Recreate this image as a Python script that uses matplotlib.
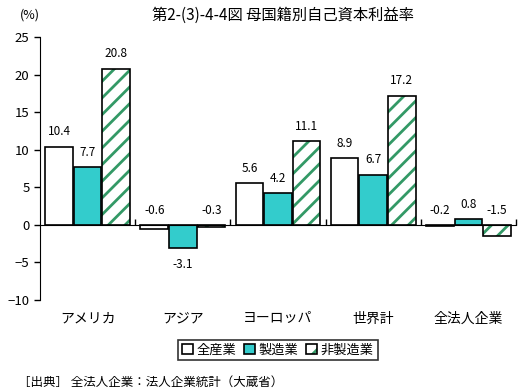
import matplotlib
matplotlib.use("Agg")
import matplotlib.pyplot as plt
import numpy as np
from matplotlib.patches import Patch
from matplotlib.legend_handler import HandlerTuple

plt.rcParams['font.family'] = ['Noto Sans CJK JP', 'DejaVu Sans']
plt.rcParams['hatch.linewidth'] = 2.0

# ------------------- Data -------------------
categories = ['アメリカ', 'アジア', 'ヨーロッパ', '世界計', '全法人企業']
series_names = ['全産業', '製造業', '非製造業']
all_industry = [10.4, -0.6, 5.6, 8.9, -0.2]
manufacturing = [7.7, -3.1, 4.2, 6.7, 0.8]
non_manufacturing = [20.8, -0.3, 11.1, 17.2, -1.5]
yticks = [25, 20, 15, 10, 5, 0, -5, -10]

title = '第2-(3)-4-4図 母国籍別自己資本利益率'
source = '［出典］ 全法人企業：法人企業統計（大蔵省）'

HATCH_GREEN = '#339966'

# ------------------- Figure -------------------
fig = plt.figure(figsize=(5.21, 3.91), dpi=100)
ax = fig.add_axes([40 / 521, 91 / 391, 476 / 521, 263 / 391])

x = np.arange(len(categories))
width = 0.29
offsets = [-0.3, 0.0, 0.3]
fills = ['white', '#33CCCC', 'white']
hatches = [None, None, '//']
all_series = [all_industry, manufacturing, non_manufacturing]

for values, off, fc, h in zip(all_series, offsets, fills, hatches):
    if h:
        # hatch drawn in green, outline drawn separately in black
        ax.bar(x + off, values, width, facecolor=fc, edgecolor=HATCH_GREEN,
               hatch=h, linewidth=0, zorder=2)
        ax.bar(x + off, values, width, facecolor='none', edgecolor='black',
               linewidth=1.2, zorder=3)
    else:
        ax.bar(x + off, values, width, facecolor=fc, edgecolor='black',
               linewidth=1.2, zorder=2)
    for xi, v in zip(x + off, values):
        if v < -2:
            ypos, va = v - 1.3, 'top'
        else:
            ypos, va = max(v, 0) + 1.1, 'bottom'
        ax.text(xi, ypos, f'{v:.1f}', ha='center', va=va, fontsize=8.5)

ax.set_xlim(-0.5, len(categories) - 0.5)
ax.set_ylim(-10, 25)
ax.set_yticks(yticks)
ax.tick_params(axis='y', direction='out', length=4, labelsize=9.5, width=1)

# x axis drawn at zero with small upward ticks between groups
ax.spines['bottom'].set_position(('data', 0))
ax.spines['bottom'].set_zorder(4)
ax.spines['top'].set_visible(False)
ax.spines['right'].set_visible(False)
ax.set_xticks(np.arange(len(categories)) + 0.5)
ax.set_xticklabels([])
ax.tick_params(axis='x', direction='in', length=4, width=1)

for xi, name in zip(x, categories):
    ax.text(xi, -0.07, name, transform=ax.get_xaxis_transform(),
            ha='center', va='center', fontsize=10)

fig.text(283 / 521, 1 - 15 / 391, title, ha='center', va='center', fontsize=11)
fig.text(30 / 521, 1 - 15 / 391, '(%)', ha='center', va='center', fontsize=9)
fig.text(18 / 521, 1 - 382 / 391, source, ha='left', va='center', fontsize=9)

handles = [
    Patch(facecolor='white', edgecolor='black', linewidth=1.2),
    Patch(facecolor='#33CCCC', edgecolor='black', linewidth=1.2),
    (Patch(facecolor='white', edgecolor=HATCH_GREEN, hatch='//', linewidth=0),
     Patch(facecolor='none', edgecolor='black', linewidth=1.2)),
]
leg = fig.legend(handles, series_names, loc='center',
                 bbox_to_anchor=(278 / 521, 1 - 350 / 391), ncol=3,
                 fontsize=9.5, frameon=True, fancybox=False,
                 edgecolor='black', handlelength=0.8, handleheight=0.8,
                 handletextpad=0.3, columnspacing=0.6, borderpad=0.3,
                 handler_map={tuple: HandlerTuple(ndivide=1, pad=0)})
leg.get_frame().set_linewidth(1.2)

fig.savefig('out.png', dpi=100)
